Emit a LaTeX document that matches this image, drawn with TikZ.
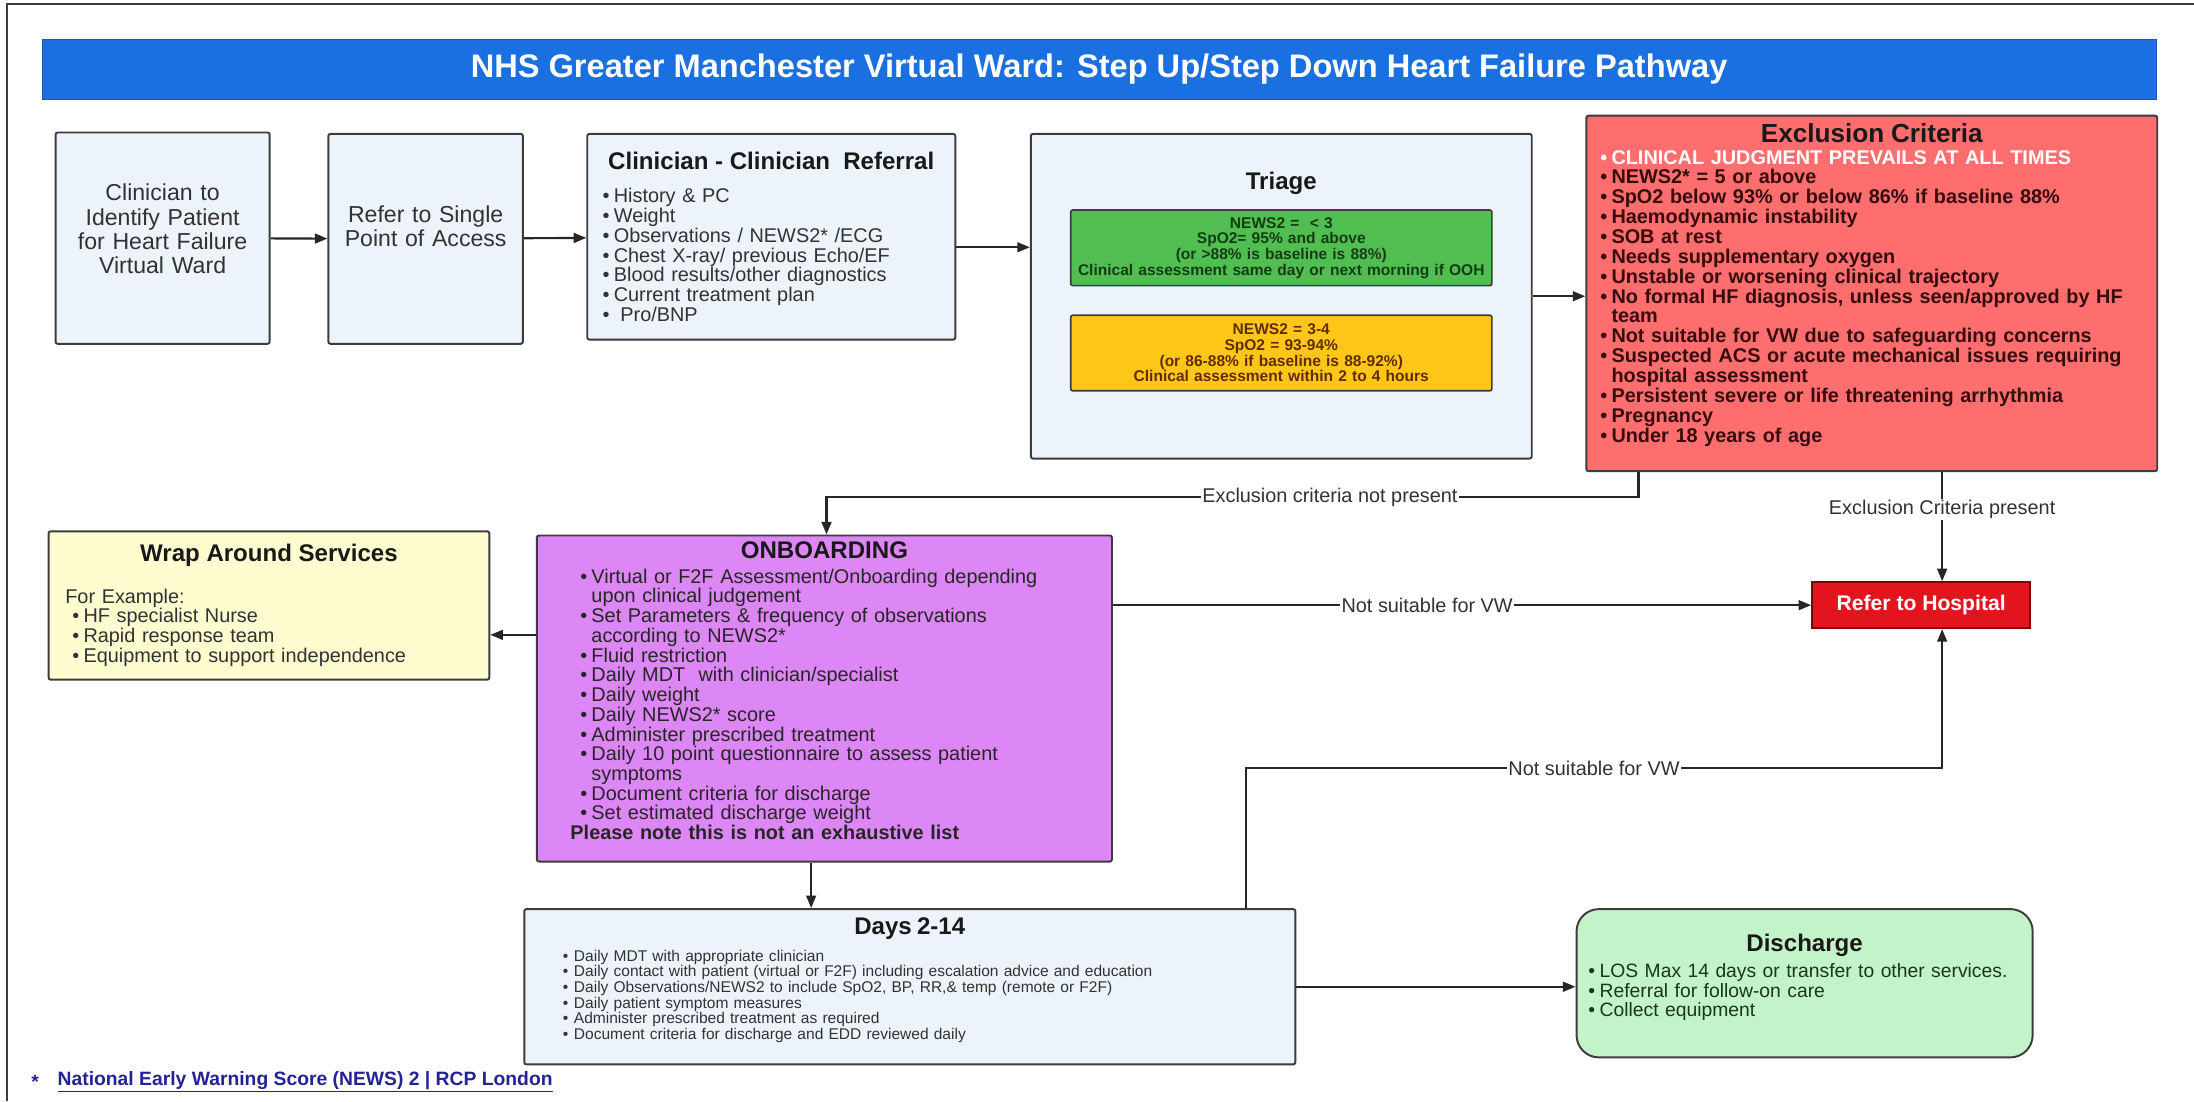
\documentclass[tikz,border=0pt]{standalone}
\usepackage{fontspec}
\setmainfont{Liberation Sans}
\usetikzlibrary{positioning, arrows.meta, calc}

\definecolor{bannerblue}{RGB}{26,112,224}
\definecolor{paleblue}{RGB}{237,243,251}
\definecolor{edgegray}{RGB}{60,60,60}
\definecolor{newsgreen}{RGB}{80,190,80}
\definecolor{newsamber}{RGB}{255,198,26}
\definecolor{greentext}{RGB}{20,60,20}
\definecolor{ambertext}{RGB}{95,45,0}
\definecolor{exclred}{RGB}{255,110,110}
\definecolor{excltext}{RGB}{55,12,12}
\definecolor{hospred}{RGB}{226,20,30}
\definecolor{wrapyellow}{RGB}{255,253,208}
\definecolor{onbviolet}{RGB}{221,134,245}
\definecolor{dischgreen}{RGB}{195,243,200}
\definecolor{dischtext}{RGB}{25,55,25}
\definecolor{bodytext}{RGB}{50,50,50}
\definecolor{linkblue}{RGB}{35,35,150}

\newcommand{\bul}{\makebox[8pt][l]{\textbullet}}
\newcommand{\bulgap}{\hspace*{8pt}}
\newcommand{\boxtitle}[1]{\centerline{\fontsize{17.2}{18}\selectfont\bfseries\color{black!90}#1}}

\begin{document}
\begin{tikzpicture}[
    x=1pt, y=-1pt,
    box/.style={
        rectangle,
        draw=edgegray,
        line width=1.4pt,
        rounded corners=1.5pt,
        anchor=north west,
        inner ysep=0pt,
        align=left,
        text=bodytext,
        font=\fontsize{14.2}{14.1}\selectfont
    },
    plain/.style={
        box,
        fill=paleblue,
        align=center,
        inner xsep=6pt,
        font=\fontsize{16.5}{17.3}\selectfont
    },
    newsbox/.style={
        rectangle,
        draw=edgegray,
        line width=1.2pt,
        rounded corners=1.5pt,
        minimum width=301pt,
        minimum height=54pt,
        inner xsep=2.5pt,
        text width=296pt,
        align=center,
        font=\fontsize{11.1}{11.2}\selectfont\bfseries
    },
    conn/.style={
        line width=1.5pt,
        draw=black!85,
        -{Triangle[length=9pt, width=7pt]}
    },
    lbl/.style={
        fill=white,
        inner sep=1pt,
        text=bodytext,
        font=\fontsize{14.2}{15}\selectfont
    }
]
    \useasboundingbox (0,0) rectangle (1568,787);

    % -- Frame and banner --
    \draw[edgegray, line width=1.5pt] (5,787) -- (5,3) -- (1568,3);
    \node[rectangle, fill=bannerblue, draw=bannerblue!80!black, line width=0.6pt,
          minimum width=1511pt, minimum height=43pt, text=white,
          font=\fontsize{23.3}{24}\selectfont\bfseries] (banner) at (785.5,49.5)
        {NHS Greater Manchester Virtual Ward: Step Up/Step Down Heart Failure Pathway};

    % -- Referral route --
    \node[plain, minimum width=153pt, minimum height=151pt, text width=141pt] (id) at (39,94)
        {Clinician to\\Identify Patient\\for Heart Failure\\Virtual Ward\par\vspace*{13pt}};
    \node[plain, minimum width=139pt, minimum height=150pt, text width=127pt] (spoa) at (234,95)
        {Refer to Single\\Point of Access\par\vspace*{18pt}};
    \node[box, fill=paleblue, minimum width=263pt, minimum height=147pt,
          inner xsep=11pt, text width=241pt] (ref) at (419,95)
        {\boxtitle{Clinician - Clinician\ \ Referral}\vspace{9.9pt}
         \bul History \& PC\\
         \bul Weight\\
         \bul Observations / NEWS2* /ECG\\
         \bul Chest X-ray/ previous Echo/EF\\
         \bul Blood results/other diagnostics\\
         \bul Current treatment plan\\
         \bul\ Pro/BNP};

    % -- Triage --
    \node[box, fill=paleblue, minimum width=358pt, minimum height=232pt] (triage) at (736,95) {};
    \node[below=28pt of triage.north, inner sep=0pt,
          font=\fontsize{17.2}{18}\selectfont\bfseries, text=black!90] (triage-title) {Triage};
    \node[newsbox, fill=newsgreen, text=greentext, below=10pt of triage-title] (green)
        {NEWS2 =\ \ < 3\\SpO2= 95\% and above\\(or >88\% is baseline is 88\%)\\
         Clinical assessment same day or next morning if OOH};
    \node[newsbox, fill=newsamber, text=ambertext, below=20pt of green] (amber)
        {NEWS2 = 3-4\\SpO2 = 93-94\%\\(or 86-88\% if baseline is 88-92\%)\\
         Clinical assessment within 2 to 4 hours};

    % -- Exclusion criteria --
    \node[box, fill=exclred, text=excltext, minimum width=408pt, minimum height=254pt,
          inner xsep=10pt, text width=388pt,
          font=\fontsize{14.2}{14.2}\selectfont\bfseries] (excl) at (1133,82)
        {\centerline{\fontsize{18.7}{19}\selectfont\color{black!90}Exclusion Criteria}\vspace{1.1pt}
         {\color{white}\bul CLINICAL JUDGMENT PREVAILS AT ALL TIMES}\\
         \bul NEWS2* = 5 or above\\
         \bul SpO2 below 93\% or below 86\% if baseline 88\%\\
         \bul Haemodynamic instability\\
         \bul SOB at rest\\
         \bul Needs supplementary oxygen\\
         \bul Unstable or worsening clinical trajectory\\
         \bul No formal HF diagnosis, unless seen/approved by HF\\
         \bulgap team\\
         \bul Not suitable for VW due to safeguarding concerns\\
         \bul Suspected ACS or acute mechanical issues requiring\\
         \bulgap hospital assessment\\
         \bul Persistent severe or life threatening arrhythmia\\
         \bul Pregnancy\\
         \bul Under 18 years of age\par\vspace*{12pt}};

    \node[rectangle, draw=red!50!black, line width=1.2pt, fill=hospred, text=white,
          minimum width=156pt, minimum height=33pt,
          font=\fontsize{15.1}{16}\selectfont\bfseries] (hosp) at (1373,432.5) {Refer to Hospital};

    % -- Onboarding and support --
    \node[box, fill=wrapyellow, minimum width=315pt, minimum height=106pt,
          inner xsep=12pt, text width=291pt] (wrap) at (34,379)
        {\boxtitle{Wrap Around Services}\vspace{15.4pt}
         For Example:\\
         \hspace*{5pt}\bul HF specialist Nurse\\
         \hspace*{5pt}\bul Rapid response team\\
         \hspace*{5pt}\bul Equipment to support independence};

    \node[box, fill=onbviolet, text=black!85, minimum width=411pt, minimum height=233pt,
          inner xsep=24pt, text width=363pt] (onb) at (383,382)
        {\boxtitle{ONBOARDING}\vspace{3.5pt}
         \hspace*{7pt}\bul Virtual or F2F Assessment/Onboarding depending\\
         \hspace*{7pt}\bulgap upon clinical judgement\\
         \hspace*{7pt}\bul Set Parameters \& frequency of observations\\
         \hspace*{7pt}\bulgap according to NEWS2*\\
         \hspace*{7pt}\bul Fluid restriction\\
         \hspace*{7pt}\bul Daily MDT\ \ with clinician/specialist\\
         \hspace*{7pt}\bul Daily weight\\
         \hspace*{7pt}\bul Daily NEWS2* score\\
         \hspace*{7pt}\bul Administer prescribed treatment\\
         \hspace*{7pt}\bul Daily 10 point questionnaire to assess patient\\
         \hspace*{7pt}\bulgap symptoms\\
         \hspace*{7pt}\bul Document criteria for discharge\\
         \hspace*{7pt}\bul Set estimated discharge weight\\
         {\bfseries Please note this is not an exhaustive list}\par\vspace*{11pt}};

    % -- Days 2-14 and discharge --
    \node[box, fill=paleblue, minimum width=551pt, minimum height=111pt,
          inner xsep=27.5pt, text width=496pt,
          font=\fontsize{11.1}{11.2}\selectfont] (days) at (374,649)
        {\boxtitle{Days 2-14}\vspace{6.2pt}
         \bul Daily MDT with appropriate clinician\\
         \bul Daily contact with patient (virtual or F2F) including escalation advice and education\\
         \bul Daily Observations/NEWS2 to include SpO2, BP, RR,\& temp (remote or F2F)\\
         \bul Daily patient symptom measures\\
         \bul Administer prescribed treatment as required\\
         \bul Document criteria for discharge and EDD reviewed daily\par\vspace*{9pt}};

    \node[box, fill=dischgreen, rounded corners=16pt, text=dischtext,
          minimum width=326pt, minimum height=106pt, inner xsep=8.5pt, text width=309pt,
          font=\fontsize{13.8}{13.9}\selectfont] (dis) at (1126,649)
        {\boxtitle{Discharge}\vspace{4.7pt}
         \bul LOS Max 14 days or transfer to other services.\\
         \bul Referral for follow-on care\\
         \bul Collect equipment\par\vspace*{8.4pt}};

    % -- Connectors --
    \draw[conn] (id) -- (spoa);
    \draw[conn] (spoa) -- (ref);
    \draw[conn] ([yshift=-7.5pt]ref.east) -- ([yshift=-7.5pt]ref.east -| triage.west);
    \draw[conn] (triage.east) -- (triage.east -| excl.west);
    % not excluded: down to onboarding
    \draw[conn] ([xshift=38pt]excl.south west) -- ++(0,18)
        -| node[lbl, pos=0.19] {Exclusion criteria not present} ([xshift=1.5pt]onb.north);
    % excluded: to hospital
    \draw[conn] ([xshift=15pt]hosp.north |- excl.south)
        -- node[lbl, pos=0.34] {Exclusion Criteria present} ([xshift=15pt]hosp.north);
    \draw[conn] ([yshift=45.5pt]onb.west) -- ([yshift=45.5pt]onb.west -| wrap.east);
    \draw[conn] (hosp.west -| onb.east) -- node[lbl, pos=0.45] {Not suitable for VW} (hosp.west);
    \draw[conn] ([xshift=-9.5pt]onb.south) -- ([xshift=-9.5pt]onb.south |- days.north);
    \draw[conn] ([xshift=-36pt]days.north east) -- ++(0,-100)
        -| node[lbl, pos=0.25] {Not suitable for VW} ([xshift=15pt]hosp.south);
    \draw[conn] (days.east) -- (days.east -| dis.west);

    % -- Footnote --
    \node[anchor=west, inner sep=0pt, text=linkblue,
          font=\fontsize{13.8}{14}\selectfont\bfseries] (note) at (41,773)
        {\underline{National Early Warning Score (NEWS) 2 | RCP London}};
    \node[left=13pt of note, inner sep=0pt, text=linkblue,
          font=\fontsize{13.8}{14}\selectfont\bfseries] (note-star) {*};

\end{tikzpicture}
\end{document}
